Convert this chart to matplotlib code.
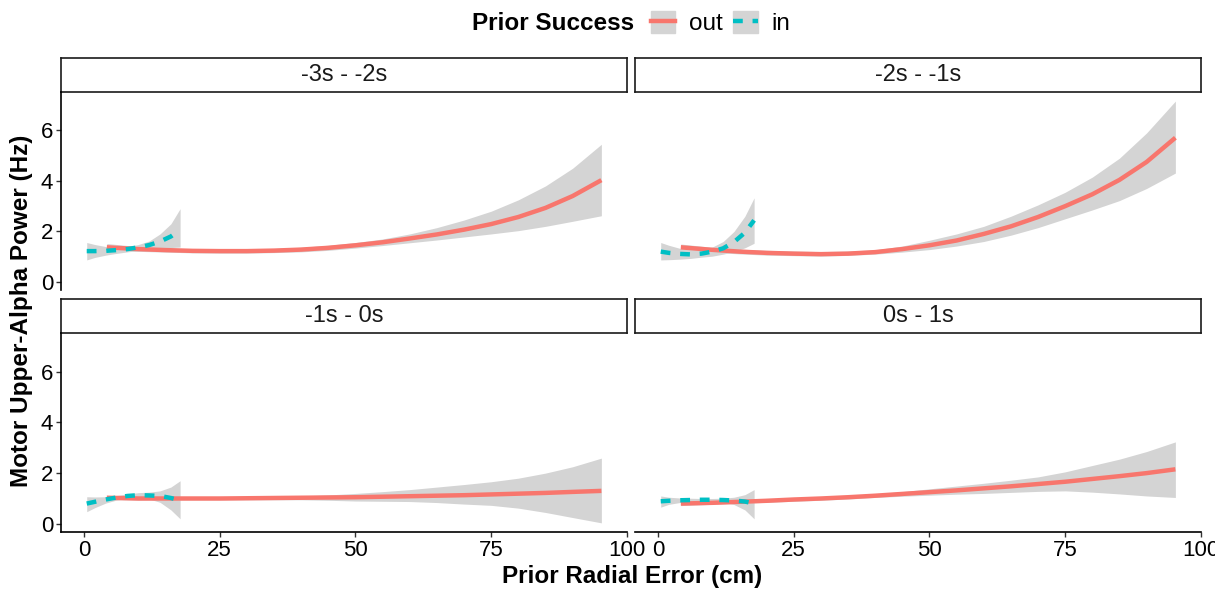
import numpy as np
import matplotlib
matplotlib.use("Agg")
import matplotlib.pyplot as plt
from matplotlib.patches import Patch
from matplotlib.lines import Line2D
from matplotlib.legend_handler import HandlerTuple

plt.rcParams['font.family'] = ['Liberation Sans', 'DejaVu Sans']

# facet titles, in reading order
facets = ["-3s - -2s", "-2s - -1s", "-1s - 0s", "0s - 1s"]

# "out" smooth (red), common x grid
out_x = [4.2, 10, 15, 20, 25, 30, 35, 40, 45, 50, 55, 60, 65, 70, 75, 80, 85, 90, 95.3]
out_y = [
    [1.37, 1.30, 1.26, 1.23, 1.22, 1.22, 1.24, 1.28, 1.35, 1.45, 1.57, 1.72, 1.88, 2.07, 2.29, 2.57, 2.93, 3.40, 4.03],
    [1.37, 1.27, 1.20, 1.15, 1.12, 1.10, 1.12, 1.18, 1.30, 1.45, 1.64, 1.90, 2.20, 2.57, 3.00, 3.47, 4.04, 4.75, 5.71],
    [1.03, 1.00, 1.00, 1.00, 1.00, 1.01, 1.02, 1.03, 1.04, 1.05, 1.07, 1.09, 1.11, 1.13, 1.16, 1.19, 1.22, 1.26, 1.30],
    [0.80, 0.83, 0.87, 0.91, 0.96, 1.00, 1.05, 1.11, 1.18, 1.25, 1.32, 1.40, 1.48, 1.57, 1.66, 1.77, 1.88, 2.00, 2.15],
]
out_hi = [
    [1.52, 1.40, 1.35, 1.31, 1.30, 1.30, 1.32, 1.37, 1.45, 1.56, 1.70, 1.90, 2.15, 2.45, 2.80, 3.25, 3.80, 4.50, 5.45],
    [1.50, 1.37, 1.30, 1.25, 1.22, 1.20, 1.22, 1.27, 1.42, 1.65, 1.90, 2.20, 2.60, 3.05, 3.55, 4.15, 4.90, 5.90, 7.16],
    [1.10, 1.06, 1.05, 1.05, 1.05, 1.06, 1.08, 1.10, 1.14, 1.20, 1.27, 1.35, 1.45, 1.55, 1.66, 1.80, 2.00, 2.25, 2.59],
    [0.88, 0.90, 0.94, 0.98, 1.02, 1.07, 1.12, 1.18, 1.27, 1.38, 1.49, 1.60, 1.72, 1.85, 2.05, 2.30, 2.55, 2.85, 3.23],
]
out_lo = [
    [1.24, 1.21, 1.18, 1.15, 1.14, 1.14, 1.16, 1.19, 1.25, 1.34, 1.44, 1.55, 1.66, 1.78, 1.90, 2.03, 2.20, 2.40, 2.62],
    [1.22, 1.17, 1.11, 1.06, 1.04, 1.02, 1.05, 1.10, 1.18, 1.28, 1.42, 1.60, 1.85, 2.15, 2.50, 2.85, 3.22, 3.70, 4.31],
    [0.96, 0.94, 0.95, 0.95, 0.95, 0.95, 0.95, 0.95, 0.93, 0.90, 0.89, 0.88, 0.84, 0.78, 0.73, 0.62, 0.45, 0.25, 0.04],
    [0.72, 0.77, 0.81, 0.85, 0.89, 0.93, 0.98, 1.04, 1.09, 1.13, 1.17, 1.20, 1.24, 1.28, 1.30, 1.25, 1.18, 1.10, 1.04],
]

# "in" smooth (teal, dashed)
in_x = [0.5, 2, 4, 6, 8, 10, 12, 14, 16, 17.7]
in_y = [
    [1.22, 1.22, 1.23, 1.26, 1.30, 1.37, 1.46, 1.60, 1.80, 2.06],
    [1.20, 1.15, 1.11, 1.09, 1.12, 1.20, 1.33, 1.58, 1.95, 2.44],
    [0.80, 0.87, 0.96, 1.04, 1.10, 1.13, 1.12, 1.10, 1.02, 0.92],
    [0.89, 0.91, 0.93, 0.94, 0.95, 0.95, 0.94, 0.92, 0.88, 0.80],
]
in_hi = [
    [1.56, 1.48, 1.40, 1.38, 1.40, 1.48, 1.62, 1.90, 2.30, 2.90],
    [1.56, 1.45, 1.33, 1.27, 1.28, 1.38, 1.60, 2.00, 2.60, 3.33],
    [1.07, 1.06, 1.07, 1.12, 1.18, 1.23, 1.25, 1.30, 1.45, 1.70],
    [1.10, 1.05, 1.02, 1.01, 1.00, 1.00, 1.01, 1.05, 1.15, 1.35],
]
in_lo = [
    [0.87, 0.97, 1.06, 1.13, 1.19, 1.24, 1.30, 1.33, 1.36, 1.38],
    [0.87, 0.88, 0.90, 0.93, 0.98, 1.02, 1.10, 1.20, 1.35, 1.53],
    [0.48, 0.64, 0.82, 0.94, 1.00, 1.02, 0.98, 0.85, 0.55, 0.20],
    [0.66, 0.77, 0.84, 0.87, 0.89, 0.89, 0.86, 0.76, 0.55, 0.20],
]

x_ticks = [0, 25, 50, 75, 100]
y_ticks = [0, 2, 4, 6]

RED = '#F8766D'
TEAL = '#00BFC4'
BAND = '#D4D4D4'

W, H = 1215, 590
fig = plt.figure(figsize=(W / 100, H / 100), dpi=100)


def box(x0, y0, x1, y1):
    # pixel box -> figure fraction rect
    return [x0 / W, 1 - y1 / H, (x1 - x0) / W, (y1 - y0) / H]


cols = [(61, 627), (635, 1201)]
rows = [(58, 92, 290), (299, 333, 532)]

for i, name in enumerate(facets):
    r, c = divmod(i, 2)
    x0, x1 = cols[c]
    s0, s1, p1 = rows[r]

    st = fig.add_axes(box(x0, s0, x1, s1))
    st.set_xticks([])
    st.set_yticks([])
    for sp in st.spines.values():
        sp.set_linewidth(1.2)
        sp.set_color('#1A1A1A')
    st.text(0.5, 0.5, name, ha='center', va='center', fontsize=17, color='#1A1A1A',
            transform=st.transAxes)

    ax = fig.add_axes(box(x0, s1, x1, p1))
    ax.fill_between(out_x, out_lo[i], out_hi[i], color=BAND, lw=0, zorder=1)
    ax.fill_between(in_x, in_lo[i], in_hi[i], color=BAND, lw=0, zorder=1)
    ax.plot(out_x, out_y[i], color=RED, lw=3.2, zorder=3, solid_capstyle='butt')
    ax.plot(in_x, in_y[i], color=TEAL, lw=3.2, ls=(0, (2.2, 2.2)), zorder=4)

    ax.set_xlim(-4.24, 100.02)
    ax.set_ylim(-0.32, 7.52)
    ax.set_xticks(x_ticks)
    ax.set_yticks(y_ticks)
    for sp in ['top', 'right']:
        ax.spines[sp].set_visible(False)
    ax.spines['left'].set_visible(c == 0)
    ax.spines['bottom'].set_visible(r == 1)
    for sp in ['left', 'bottom']:
        ax.spines[sp].set_linewidth(1.2)
        ax.spines[sp].set_color('black')
    ax.tick_params(axis='x', bottom=(r == 1), labelbottom=(r == 1),
                   length=3.5, width=1, color='#333333', labelsize=16, pad=2.5)
    ax.tick_params(axis='y', left=(c == 0), labelleft=(c == 0),
                   length=3.5, width=1, color='#333333', labelsize=16, pad=2)
    ax.patch.set_alpha(0)

fig.text(632 / W, 1 - 577 / H, 'Prior Radial Error (cm)', ha='center', va='center',
         fontsize=17.5, fontweight='bold')
fig.text(22 / W, 1 - 311 / H, 'Motor Upper-Alpha Power (Hz)', ha='center', va='center',
         rotation=90, fontsize=17.5, fontweight='bold')

# legend
fig.text(472 / W, 1 - 23 / H, 'Prior Success', ha='left', va='center',
         fontsize=17.5, fontweight='bold')
h_out = (Patch(color=BAND), Line2D([], [], color=RED, lw=3.2))
h_in = (Patch(color=BAND), Line2D([], [], color=TEAL, lw=3.2, ls=(0, (2.2, 2.2))))
fig.legend([h_out, h_in], ['out', 'in'], handler_map={tuple: HandlerTuple(ndivide=1)},
           loc='center left', bbox_to_anchor=(651 / W, 1 - 23 / H), ncol=2,
           frameon=False, fontsize=17.5, handlelength=1.0, handleheight=1.0,
           handletextpad=0.55, columnspacing=0.45, borderpad=0, borderaxespad=0)

fig.savefig('out.png', dpi=100)
